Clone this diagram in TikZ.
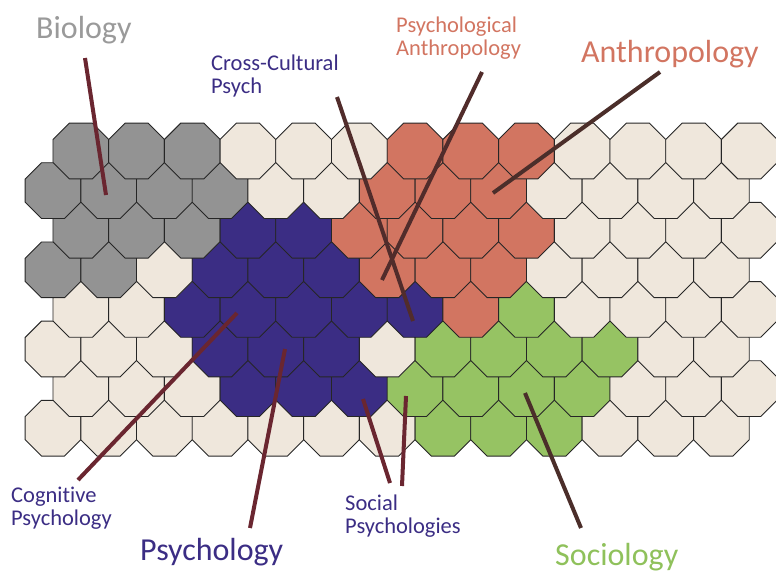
\documentclass[tikz,border=0pt]{standalone}
\usepackage{fontspec}
\setmainfont{Carlito}[Ligatures=NoCommon]
\usetikzlibrary{shapes.geometric}

\definecolor{bio}{HTML}{939393}
\definecolor{psy}{HTML}{3B2D84}
\definecolor{anth}{HTML}{D27561}
\definecolor{soc}{HTML}{96C363}
\definecolor{free}{HTML}{EFE7DC}
\definecolor{biotext}{HTML}{9A9A9A}
\definecolor{soctext}{HTML}{8FC15B}
\definecolor{maroon}{HTML}{6A2630}
\definecolor{umber}{HTML}{4B2E2A}

\begin{document}
\begin{tikzpicture}[x=1pt,y=-1pt,
    cell/.style={regular polygon,regular polygon sides=8,minimum size=60.3pt,
      inner sep=0pt,outer sep=0pt,draw=black!85,line width=0.9pt},
    big/.style={font=\fontsize{32}{36}\selectfont,anchor=base west,inner sep=0pt},
    small/.style={font=\fontsize{22.5}{23}\selectfont,anchor=base west,
      align=left,inner sep=0pt},
    pointer/.style={line width=4pt}]
  \useasboundingbox (0,0) rectangle (776,573);

  % rows drawn from the bottom up, so each row lies over the one below
  \foreach \r/\cells in {
      8/{free,free,free,free,free,free,free,soc,soc,soc,free,free,free},
      7/{free,free,free,psy,psy,psy,soc,soc,soc,soc,free,free,free},
      6/{free,free,free,psy,psy,psy,free,soc,soc,soc,soc,free,free},
      5/{free,free,psy,psy,psy,psy,psy,anth,soc,free,free,free,free},
      4/{bio,bio,free,psy,psy,psy,anth,anth,anth,free,free,free,free},
      3/{bio,bio,bio,psy,psy,anth,anth,anth,anth,free,free,free,free},
      2/{bio,bio,bio,bio,free,free,anth,anth,anth,free,free,free,free},
      1/{bio,bio,bio,free,free,free,anth,anth,anth,free,free,free,free}}{
    \foreach \c [count=\i from 0] in \cells {
      \pgfmathsetmacro\xx{53+27.85*mod(\r,2)+55.7*\i}
      \pgfmathsetmacro\yy{151+39.6*(\r-1)}
      \node[cell,fill=\c] (cell-\r-\i) at (\xx,\yy) {};
    }
  }

  % labels (two-line ones sit on the baseline of their last line)
  \node[big,text=biotext] (biology) at (36,38) {Biology};
  \node[small,text=psy] (crosscult) at (211,93) {Cross-Cultural\\Psych};
  \node[small,text=anth] (psyanth) at (396,55) {Psychological\\Anthropology};
  \node[big,text=anth] (anthropology) at (581,62) {Anthropology};
  \node[small,text=psy] (cognitive) at (11,525) {Cognitive\\Psychology};
  \node[big,text=psy] (psychology) at (140,560) {Psychology};
  \node[small,text=psy] (social) at (345,533) {Social\\Psychologies};
  \node[big,text=soctext] (sociology) at (555,565) {Sociology};

  % pointer ends
  \coordinate (bio-a) at (85,58);    \coordinate (bio-b) at (106,195);
  \coordinate (cc-a) at (337,97);    \coordinate (cc-b) at (413,321);
  \coordinate (pa-a) at (482,72);    \coordinate (pa-b) at (382,280);
  \coordinate (an-a) at (660,72);    \coordinate (an-b) at (493,193);
  \coordinate (cog-a) at (78,480);   \coordinate (cog-b) at (237,313);
  \coordinate (psy-a) at (250,528);  \coordinate (psy-b) at (285,349);
  \coordinate (sp1-a) at (390,483);  \coordinate (sp1-b) at (363,399);
  \coordinate (sp2-a) at (402,486);  \coordinate (sp2-b) at (406,396);
  \coordinate (so-a) at (581,528);   \coordinate (so-b) at (525,393);

  \draw[pointer,maroon] (bio-a) -- (bio-b);
  \draw[pointer,umber!80!maroon] (cc-a) -- (cc-b);
  \draw[pointer,umber!80!maroon] (pa-a) -- (pa-b);
  \draw[pointer,umber] (an-a) -- (an-b);
  \draw[pointer,maroon] (cog-a) -- (cog-b);
  \draw[pointer,maroon] (psy-a) -- (psy-b);
  \draw[pointer,maroon] (sp1-a) -- (sp1-b);
  \draw[pointer,maroon] (sp2-a) -- (sp2-b);
  \draw[pointer,umber] (so-a) -- (so-b);
\end{tikzpicture}
\end{document}
